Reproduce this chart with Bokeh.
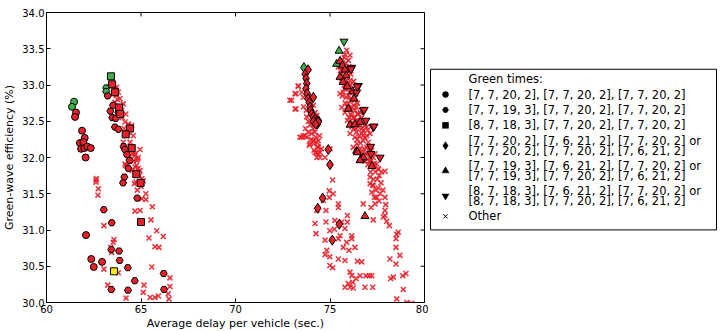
from bokeh.plotting import figure
from bokeh.models import Range1d, FixedTicker, NumeralTickFormatter, ColumnDataSource
from bokeh.layouts import row
from bokeh.embed import file_html
from bokeh.resources import INLINE
from bokeh.core.properties import value

# ---------------- data ----------------
x_ticks = [60, 65, 70, 75, 80]
y_ticks = [30.0, 30.5, 31.0, 31.5, 32.0, 32.5, 33.0, 33.5, 34.0]

legend_title = "Green times:"
legend_labels = [
    "[7, 7, 20, 2], [7, 7, 20, 2], [7, 7, 20, 2]",
    "[7, 7, 19, 3], [7, 7, 20, 2], [7, 7, 20, 2]",
    "[8, 7, 18, 3], [7, 7, 20, 2], [7, 7, 20, 2]",
    "[7, 7, 20, 2], [7, 6, 21, 2], [7, 7, 20, 2] or\n[7, 7, 20, 2], [7, 7, 20, 2], [7, 6, 21, 2]",
    "[7, 7, 19, 3], [7, 6, 21, 2], [7, 7, 20, 2] or\n[7, 7, 19, 3], [7, 7, 20, 2], [7, 6, 21, 2]",
    "[8, 7, 18, 3], [7, 6, 21, 2], [7, 7, 20, 2] or\n[8, 7, 18, 3], [7, 7, 20, 2], [7, 6, 21, 2]",
    "Other",
]

# series 1: circles
s1_x = [61.46, 61.35, 61.56, 61.51, 61.88, 62.02, 61.77, 61.95, 61.83, 62.00, 62.16, 62.34, 62.07,
        62.09, 62.37, 62.50, 62.94]
s1_y = [32.77, 32.70, 32.62, 32.56, 32.37, 32.27, 32.20, 32.21, 32.12, 32.13, 32.15, 32.13, 32.00,
        30.93, 30.60, 30.49, 30.56]
s1_f = ["g", "g", "r", "r", "r", "r", "r", "r", "r", "r", "r", "r", "r", "r", "r", "r", "r"]

# series 2: hexagons
s2_x = [63.16, 63.16, 63.24, 63.52, 63.38, 63.80, 63.48, 63.66, 63.62, 63.80, 64.08, 64.15, 64.26,
        64.40, 64.33, 64.12, 64.05, 64.80, 63.03, 63.45, 63.43, 63.84, 63.87, 64.30, 64.67, 63.43,
        64.31, 66.20, 66.22]
s2_y = [32.96, 32.91, 32.85, 32.72, 32.64, 32.62, 32.55, 32.54, 32.42, 32.39, 32.15, 32.11, 32.04,
        31.96, 31.85, 31.73, 31.65, 31.44, 31.28, 31.10, 30.73, 30.71, 30.58, 30.48, 30.30, 30.18,
        30.17, 30.40, 30.18]
s2_f = ["g", "g"] + ["r"] * 27

# series 3: squares
s3_x = [63.41, 63.47, 63.62, 63.84, 63.90, 64.42, 64.19, 64.51, 64.75, 64.98, 65.00, 63.57]
s3_y = [33.12, 33.01, 32.90, 32.69, 32.60, 32.40, 32.32, 32.13, 31.77, 31.65, 31.11, 30.43]
s3_f = ["g"] + ["r"] * 10 + ["y"]

# series 4: diamonds
s4_x = [73.62, 73.84, 73.69, 73.73, 73.77, 73.73, 73.80, 73.84, 73.91, 73.94, 73.98, 74.03, 74.12,
        74.21, 74.30, 74.38, 74.33, 74.12, 74.12, 74.38, 74.24, 74.91, 75.00, 74.61, 74.35, 75.49, 75.12]
s4_y = [33.24, 33.21, 33.15, 33.09, 33.02, 32.95, 32.88, 32.81, 32.76, 32.70, 32.65, 32.60, 32.56,
        32.53, 32.50, 32.51, 32.46, 32.50, 32.83, 32.49, 32.46, 32.11, 31.90, 31.44, 31.30, 31.08, 30.86]
s4_f = ["g"] + ["r"] * 26

# series 5: triangles up
s5_x = [75.48, 75.35, 75.53, 75.67, 75.79, 75.53, 75.85, 75.70, 75.91, 76.20, 76.27, 75.97, 76.06,
        76.32, 76.59, 76.41, 76.62, 76.76, 77.21, 76.45, 76.59, 76.85]
s5_y = [33.47, 33.29, 33.33, 33.27, 33.21, 33.11, 33.13, 33.04, 32.98, 32.91, 32.81, 32.67, 32.45,
        32.46, 32.49, 32.09, 31.97, 32.00, 31.88, 32.07, 31.96, 31.19]
s5_f = ["g", "g"] + ["r"] * 20

# series 6: triangles down
s6_x = [75.74, 76.15, 76.50, 76.41, 76.76, 76.90, 77.29, 77.15, 77.65, 76.11, 76.44, 76.81, 77.33, 77.17]
s6_y = [33.60, 33.24, 32.99, 32.90, 32.65, 32.51, 32.42, 32.15, 32.00, 33.22, 32.98, 32.66, 32.43, 32.05]
s6_f = ["g"] + ["r"] * 13

# other
oth_x = [62.62, 62.62, 62.74, 62.72, 63.04, 63.57, 63.53, 63.40, 63.45, 63.04, 63.80, 63.24, 64.21,
         64.15, 64.28, 64.42, 64.68, 64.77, 64.82, 64.95, 64.91, 64.74, 64.65, 65.12, 65.04, 65.26,
         64.95, 64.68, 65.26, 65.60, 65.53, 64.95, 65.42, 65.83, 66.18, 65.74, 65.95, 65.57, 65.16,
         65.12, 65.48, 65.74, 65.92, 66.44, 66.53, 66.53, 66.48,
         63.71, 63.80, 63.68, 63.89, 63.62, 64.06, 63.98, 64.15, 64.33, 64.51, 64.24, 64.59, 64.06,
         64.42, 64.95, 64.68, 64.33, 64.77, 64.19, 64.68, 64.54, 65.04, 62.64,
         73.32, 73.20, 72.97, 73.15, 73.50, 73.59, 73.85, 73.94, 74.03, 73.77, 74.12, 73.59, 73.50,
         73.77, 73.94, 74.12, 74.30, 74.38, 74.21, 74.47, 74.30,
         74.38, 74.74, 75.14, 75.17, 74.65, 74.96, 74.96, 75.44, 75.44, 74.79, 74.79, 74.26, 74.99,
         75.26, 75.62, 75.92, 75.92, 75.79, 76.15, 76.15, 76.32, 75.53, 75.44, 75.88, 76.00, 75.79,
         74.74, 74.83, 74.99, 74.74, 75.14, 74.99, 75.44, 75.70, 76.06, 76.15, 76.20, 75.97, 75.79,
         76.06, 76.23, 76.38, 74.30, 74.21, 75.23, 76.45, 76.68, 77.08, 77.21, 77.26, 76.59,
         77.12, 77.29, 77.56, 77.73, 77.91, 77.12, 77.12, 77.29, 77.43, 77.65, 77.91, 77.21, 77.47,
         77.17, 76.76, 77.29, 77.38, 77.82, 77.91, 78.00, 78.14, 77.91, 78.53, 78.61, 78.49, 78.49,
         78.70, 78.17, 78.49, 78.21, 78.35, 78.85, 79.02, 78.88, 78.53, 79.06, 79.32, 76.90, 76.85,
         75.88, 76.06, 75.97, 75.70, 75.97, 75.62, 75.88, 75.62, 76.06, 75.79, 76.02, 75.85, 76.09,
         76.32, 75.97, 76.15, 76.32, 76.09, 76.50, 76.23, 76.41, 76.68, 76.50, 76.76, 76.94, 76.68,
         76.85, 77.12, 76.76, 77.03, 76.94, 77.21, 76.90, 77.38, 77.12, 77.47, 77.29, 77.56,
         75.00, 75.44, 75.62, 75.53, 75.62, 75.79, 75.92, 76.15, 76.06, 76.32, 76.41, 76.50, 76.23,
         76.68, 76.94, 77.12,
         73.41, 73.68, 73.90, 74.12, 74.38, 74.30, 74.47, 74.03, 72.88, 73.15, 73.32, 73.20,
         74.03, 74.12, 74.21, 73.94, 74.30,
         75.75, 75.85, 75.55, 75.75, 75.95, 75.70, 75.95, 76.20, 75.90, 76.05, 76.25, 76.40, 76.20,
         76.35, 76.60, 76.55, 76.95, 76.60, 76.80, 77.05, 77.30, 77.00, 77.40, 77.60, 77.30,
         75.65, 75.80, 76.00, 76.10, 75.90, 75.75, 76.10, 76.25, 75.65, 75.80, 76.00, 76.15, 76.35,
         76.45, 76.00, 76.15, 76.30, 76.45, 76.60, 76.25, 76.40, 76.55, 76.70, 76.85, 76.45, 76.60,
         76.75, 77.00, 76.70, 76.85, 77.00, 77.15, 77.35, 77.50, 77.70, 77.25, 77.55, 77.80, 77.35,
         77.60, 77.95,
         73.60, 73.75, 73.85, 73.95, 74.10, 74.20, 73.70, 73.85, 74.00, 74.25, 74.45, 74.15, 74.35,
         74.55,
         63.60, 63.75, 63.90, 64.00, 64.20, 64.10, 64.35, 64.45, 64.55, 64.85, 64.60, 64.85, 65.00,
         64.80]
oth_y = [31.69, 31.66, 31.57, 31.48, 31.06, 30.87, 30.83, 30.76, 30.69, 30.46, 30.41, 30.24, 30.06,
         31.91, 31.89, 31.96, 32.03, 31.89, 31.98, 31.82, 31.75, 31.66, 31.64, 31.68, 31.43, 31.50,
         31.27, 31.26, 31.42, 31.32, 31.14, 31.13, 30.89, 30.99, 30.91, 30.77, 30.76, 30.49, 30.24,
         30.14, 30.07, 30.07, 30.09, 30.12, 30.22, 30.34, 30.05,
         32.97, 32.90, 32.86, 32.81, 32.76, 32.74, 32.65, 32.49, 32.46, 32.44, 32.30, 32.30, 32.21,
         32.21, 32.11, 32.05, 32.00, 31.96, 31.89, 31.87, 31.82, 31.71, 31.71,
         32.98, 32.88, 32.79, 32.67, 32.90, 32.83, 32.79, 32.69, 32.60, 32.56, 32.51, 32.30, 32.28,
         32.28, 32.19, 32.23, 32.21, 32.14, 32.07, 32.07, 32.00,
         32.05, 32.00, 31.69, 31.50, 31.41, 31.54, 31.45, 31.36, 31.31, 31.27, 31.11, 30.95, 30.99,
         31.13, 31.11, 31.11, 31.20, 31.02, 30.88, 30.92, 30.76, 30.92, 30.88, 30.83, 30.72, 30.58,
         30.86, 30.72, 30.63, 30.66, 30.48, 30.51, 30.60, 30.76, 30.42, 30.37, 30.28, 30.26, 30.21,
         30.21, 30.20, 30.33, 31.27, 31.09, 31.01, 30.57, 30.56, 30.37, 30.37, 30.21, 30.37,
         31.96, 31.89, 31.84, 31.80, 31.81, 31.73, 31.64, 31.61, 31.55, 31.50, 31.45, 31.52, 31.45,
         31.31, 31.36, 31.14, 31.36, 31.18, 31.27, 31.12, 31.06, 31.20, 30.94, 30.97, 30.88, 30.76,
         30.65, 30.60, 30.53, 30.33, 30.35, 30.37, 30.40, 30.18, 30.05, 30.00, 29.99, 30.37, 30.21,
         33.48, 33.41, 33.34, 33.25, 33.20, 33.15, 33.06, 33.04, 33.06, 32.95, 32.90, 32.83, 32.79,
         32.83, 32.74, 32.69, 32.65, 32.60, 32.60, 32.55, 32.51, 32.55, 32.42, 32.37, 32.42, 32.33,
         32.28, 32.33, 32.23, 32.21, 32.14, 32.10, 32.05, 32.05, 31.94, 31.91, 31.87, 31.84,
         32.12, 33.25, 33.06, 32.88, 32.69, 32.62, 32.51, 32.42, 32.33, 32.28, 32.19, 32.11, 32.14,
         32.07, 32.05, 32.00,
         32.28, 32.30, 32.17, 32.19, 32.23, 32.07, 32.00, 32.33, 32.79, 32.88, 32.99, 32.67,
         32.83, 32.72, 32.62, 32.60, 32.58,
         33.38, 33.30, 33.20, 33.10, 33.00, 32.90, 32.95, 32.95, 32.70, 32.68, 32.72, 32.70, 32.48,
         32.40, 32.45, 32.30, 32.30, 32.20, 32.12, 32.10, 32.00, 31.98, 31.80, 31.75, 31.70,
         33.35, 33.42, 33.25, 33.15, 33.12, 33.00, 33.00, 33.05, 32.85, 32.75, 32.85, 32.80, 32.88,
         32.75, 32.55, 32.58, 32.55, 32.60, 32.62, 32.40, 32.35, 32.50, 32.40, 32.45, 32.25, 32.12,
         32.30, 32.38, 32.02, 31.95, 31.90, 31.80, 31.92, 31.70, 31.65, 31.62, 31.58, 31.55, 31.45,
         31.40, 31.35,
         32.70, 32.65, 32.50, 32.45, 32.40, 32.35, 32.40, 32.35, 32.25, 32.28, 32.30, 32.10, 32.15,
         32.12,
         32.95, 32.80, 32.70, 32.55, 32.60, 32.40, 32.35, 32.15, 32.05, 32.00, 31.95, 31.85, 31.60,
         31.55]

# ---------------- styling ----------------
RED = "#e8202a"
PALETTE = {"r": RED, "g": "#3fae49", "y": "#f5ec00"}
FONT = "DejaVu Sans"
FW, FH = 378, 290          # plot frame size in px
TICK = 4                   # inner tick length in px

X0, X1, Y0, Y1 = x_ticks[0], x_ticks[-1], y_ticks[0], y_ticks[-1]

p = figure(frame_width=FW, frame_height=FH, x_range=Range1d(X0, X1), y_range=Range1d(Y0, Y1),
           output_backend="svg", toolbar_location=None, title=None,
           min_border_left=46, min_border_right=4, min_border_top=12, min_border_bottom=29)
p.outline_line_color = "black"
p.outline_line_width = 1
p.xgrid.visible = False
p.ygrid.visible = False
p.background_fill_color = "white"

p.xaxis.ticker = FixedTicker(ticks=x_ticks)
p.yaxis.ticker = FixedTicker(ticks=y_ticks)
p.yaxis.formatter = NumeralTickFormatter(format="0.0")
p.xaxis.axis_label = "Average delay per vehicle (sec.)"
p.yaxis.axis_label = "Green-wave efficiency (%)"
for ax in (p.xaxis[0], p.yaxis[0]):
    ax.major_tick_in = TICK
    ax.major_tick_out = 0
    ax.minor_tick_in = 0
    ax.minor_tick_out = 0
    ax.axis_line_color = "black"
    ax.major_tick_line_color = "black"
    ax.major_label_text_font = FONT
    ax.major_label_text_font_size = "10px"
    ax.major_label_text_color = "black"
    ax.major_label_standoff = 2
    ax.axis_label_text_font = FONT
    ax.axis_label_text_font_size = "11px"
    ax.axis_label_text_font_style = "normal"
    ax.axis_label_text_color = "black"
p.xaxis.axis_label_standoff = 1
p.yaxis.axis_label_standoff = 3

# mirrored inner ticks on top and right edges
dy = TICK * (Y1 - Y0) / FH
dx = TICK * (X1 - X0) / FW
p.segment(x0=x_ticks, y0=[Y1] * len(x_ticks), x1=x_ticks, y1=[Y1 - dy] * len(x_ticks),
          line_color="black", line_width=1)
p.segment(x0=[X1] * len(y_ticks), y0=y_ticks, x1=[X1 - dx] * len(y_ticks), y1=y_ticks,
          line_color="black", line_width=1)

# other (x markers) first
p.scatter(oth_x, oth_y, marker="x", size=7, line_color=RED, line_width=1.6, line_alpha=0.9)

series = [
    (s1_x, s1_y, s1_f, "circle", 7),
    (s2_x, s2_y, s2_f, "hex", 7),
    (s3_x, s3_y, s3_f, "square", 7),
    (s4_x, s4_y, s4_f, "diamond", 10),
    (s5_x, s5_y, s5_f, "triangle", 8),
    (s6_x, s6_y, s6_f, "inverted_triangle", 8),
]
for xs, ys, fs, mk, sz in series:
    src = ColumnDataSource(dict(x=xs, y=ys, c=[PALETTE[f] for f in fs]))
    p.scatter("x", "y", source=src, marker=mk, size=sz, fill_color="c",
              line_color="black", line_width=1)

# ---------------- legend panel ----------------
MAIN_W = 46 + FW + 4
LW, LH = 720 - MAIN_W, 12 + FH + 29
lg = figure(width=LW, height=LH, x_range=Range1d(0, LW), y_range=Range1d(LH, 0),
            output_backend="svg", toolbar_location=None, title=None,
            x_axis_type=None, y_axis_type=None, min_border=0)
lg.outline_line_color = None
lg.xgrid.visible = False
lg.ygrid.visible = False

box_l, box_r, box_t, box_b = 2, 288, 65, 249
lg.quad(left=[box_l], right=[box_r], top=[box_t], bottom=[box_b],
        fill_color="white", line_color="black", line_width=1)

marker_x = 17
text_x = 40
line_h = 11.2
pad = 6.45
title_y = 76.3
legend_markers = ["circle", "hex", "square", "diamond", "triangle", "inverted_triangle", "x"]
legend_sizes = [6, 6, 6, 8, 7, 7, 6]

tx, ty, tt = [text_x], [title_y], [legend_title]
mx, my = [], []
prev_h = line_h + pad
cy = title_y
for lab in legend_labels:
    lines = lab.split("\n")
    h = len(lines) * line_h + pad
    cy = cy + (prev_h + h) / 2
    prev_h = h
    mx.append(marker_x)
    my.append(cy)
    for i, ln in enumerate(lines):
        tx.append(text_x)
        ty.append(cy + (i - (len(lines) - 1) / 2) * line_h)
        tt.append(ln)

lg.text(x=tx, y=ty, text=tt, text_font=value(FONT), text_font_size="11.5px",
        text_baseline="middle", text_align="left", text_color="black")
for i, mk in enumerate(legend_markers):
    if mk == "x":
        lg.scatter([mx[i]], [my[i]], marker=mk, size=legend_sizes[i], line_color="black", line_width=1)
    else:
        lg.scatter([mx[i]], [my[i]], marker=mk, size=legend_sizes[i], fill_color="black",
                   line_color="black", line_width=0.5)

layout = row(p, lg)
open("out.html", "w").write(file_html(layout, INLINE))
